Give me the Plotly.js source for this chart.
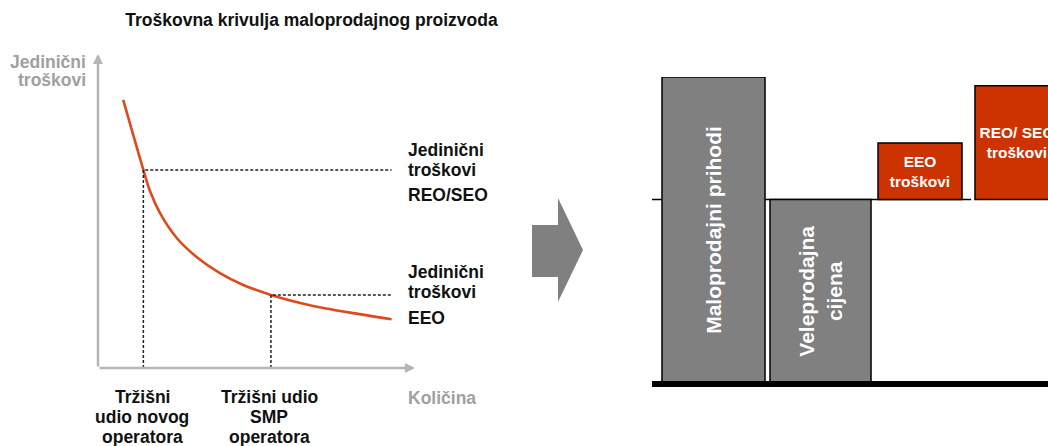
<!DOCTYPE html>
<html>
<head>
<meta charset="utf-8">
<script src="https://cdn.plot.ly/plotly-3.0.1.min.js"></script>
<style>html,body{margin:0;padding:0;background:#fff;}#chart{width:1048px;height:446px;}</style>
</head>
<body>
<div id="chart"></div>
<script>
// ---- Left panel: unit-cost curve (quantity vs unit cost, arbitrary units) ----
const costQuantity = [0.80, 1.12, 1.44, 1.65, 1.97, 2.50, 3.13, 3.87, 4.61, 5.49, 6.73, 8.00, 9.32];
const unitCost     = [8.62, 7.49, 6.37, 5.69, 4.98, 4.18, 3.57, 3.05, 2.67, 2.35, 2.02, 1.78, 1.57];
const newOperatorShare = 1.44;   // Tržišni udio novog operatora
const newOperatorCost  = 6.37;   // Jedinični troškovi REO/SEO
const smpOperatorShare = 5.49;   // Tržišni udio SMP operatora
const smpOperatorCost  = 2.35;   // Jedinični troškovi EEO
const guideEnd = 9.32;

// ---- Right panel: price / cost bars ----
const grayBarLabels = ['Maloprodajni prihodi', 'Veleprodajna<br>cijena'];
const grayBarPos    = [0, 1];
const grayBarValues = [100, 60];
const redBarLabels  = ['EEO<br>troškovi', 'REO/ SEO<br>troškovi'];
const redBarPos     = [1.93, 2.836];
const redBarBase    = [60, 60];
const redBarValues  = [18.4, 37.1];
const wholesaleLevel = 60;

const W = 1048, H = 446;
const px = v => v / W;
const py = v => (H - v) / H;
const FONT = 'Liberation Sans, Arial, sans-serif';

const traces = [
  {
    x: costQuantity, y: unitCost, type: 'scatter', mode: 'lines',
    line: {color: '#e0491b', width: 2.6, shape: 'spline', smoothing: 0.8},
    xaxis: 'x', yaxis: 'y', hoverinfo: 'skip'
  },
  {
    x: [newOperatorShare, newOperatorShare, guideEnd],
    y: [0, newOperatorCost, newOperatorCost],
    type: 'scatter', mode: 'lines',
    line: {color: '#222', width: 1.5, dash: '3px,2px'},
    xaxis: 'x', yaxis: 'y', hoverinfo: 'skip'
  },
  {
    x: [smpOperatorShare, smpOperatorShare, guideEnd],
    y: [0, smpOperatorCost, smpOperatorCost],
    type: 'scatter', mode: 'lines',
    line: {color: '#222', width: 1.5, dash: '3px,2px'},
    xaxis: 'x', yaxis: 'y', hoverinfo: 'skip'
  },
  {
    x: grayBarPos, y: grayBarValues, type: 'bar', width: [0.963, 0.944],
    marker: {color: '#808080', line: {color: '#000', width: 1.5}},
    text: grayBarLabels, textposition: 'inside', insidetextanchor: 'middle',
    textangle: -90, constraintext: 'none',
    insidetextfont: {family: FONT, size: 21, color: '#fff', weight: 700},
    xaxis: 'x2', yaxis: 'y2', hoverinfo: 'skip'
  },
  {
    x: redBarPos, y: redBarValues, base: redBarBase, type: 'bar', width: [0.785, 0.785],
    marker: {color: '#cc3300', line: {color: '#000', width: 1.5}},
    text: redBarLabels, textposition: 'inside', insidetextanchor: 'middle',
    textangle: 0, constraintext: 'none',
    insidetextfont: {family: FONT, size: 15.5, color: '#fff', weight: 700},
    xaxis: 'x2', yaxis: 'y2', hoverinfo: 'skip'
  }
];

const hidden = {visible: false, showgrid: false, zeroline: false, fixedrange: true};

const blackLbl = (text, x, y, xanchor) => ({
  text, x: px(x), y: py(y), xref: 'paper', yref: 'paper', xanchor, yanchor: 'middle',
  showarrow: false, font: {family: FONT, size: 17.5, color: '#111', weight: 700}
});
const grayLbl = (text, x, y, xanchor) => ({
  text, x: px(x), y: py(y), xref: 'paper', yref: 'paper', xanchor, yanchor: 'middle',
  showarrow: false, font: {family: FONT, size: 17.5, color: '#a0a0a0', weight: 700}
});

const arrowPath = [[532,225],[558,225],[558,198],[583,250],[558,302],[558,277],[532,277]]
  .map((p, i) => (i ? 'L' : 'M') + px(p[0]).toFixed(5) + ',' + py(p[1]).toFixed(5)).join(' ') + ' Z';

// right panel: 3.06 px per value unit, y=0 at pixel row 383
const y2Bottom = -4;
const layout = {
  width: W, height: H,
  margin: {l: 0, r: 0, t: 0, b: 0},
  paper_bgcolor: '#fff', plot_bgcolor: 'rgba(0,0,0,0)',
  showlegend: false, barmode: 'overlay', bargap: 0,
  title: {
    text: 'Troškovna krivulja maloprodajnog proizvoda',
    x: px(311.5), xanchor: 'center', xref: 'paper',
    y: py(20), yanchor: 'middle', yref: 'paper',
    font: {family: FONT, size: 17.5, color: '#111', weight: 700}
  },
  xaxis: Object.assign({domain: [px(98), px(413)], range: [0, 10], anchor: 'y'}, hidden),
  yaxis: Object.assign({domain: [py(368), py(57)], range: [0, 10], anchor: 'x'}, hidden),
  xaxis2: Object.assign({domain: [px(640), 1], range: [-0.687, 3.126], anchor: 'y2'}, hidden),
  yaxis2: Object.assign({domain: [py(383 - y2Bottom * 3.06), py(77)], range: [y2Bottom, 100], anchor: 'x2'}, hidden),
  shapes: [
    {type: 'path', path: arrowPath, xref: 'paper', yref: 'paper',
     fillcolor: '#808080', line: {width: 0}},
    {type: 'line', xref: 'x2', yref: 'y2', x0: -0.575, x1: 2.407, y0: wholesaleLevel, y1: wholesaleLevel,
     line: {color: '#000', width: 1.5}, layer: 'below'},
    {type: 'line', xref: 'x2', yref: 'y2', x0: -0.575, x1: 3.3, y0: -0.3, y1: -0.3,
     line: {color: '#000', width: 6}, layer: 'above'}
  ],
  annotations: [
    {x: 0, y: 10.1, ax: 0, ay: 0, xref: 'x', yref: 'y', axref: 'x', ayref: 'y', text: '',
     showarrow: true, arrowhead: 2, arrowsize: 0.8, arrowwidth: 2.5, arrowcolor: '#b5b5b5', standoff: 0},
    {x: 10.06, y: 0, ax: 0, ay: 0, xref: 'x', yref: 'y', axref: 'x', ayref: 'y', text: '',
     showarrow: true, arrowhead: 2, arrowsize: 0.8, arrowwidth: 2.5, arrowcolor: '#b5b5b5', standoff: 0},
    grayLbl('Jedinični', 88, 62, 'right'),
    grayLbl('troškovi', 88, 80, 'right'),
    grayLbl('Količina', 406, 398, 'left'),
    blackLbl('Jedinični', 406, 150, 'left'),
    blackLbl('troškovi', 406, 170, 'left'),
    blackLbl('REO/SEO', 406, 195, 'left'),
    blackLbl('Jedinični', 406, 272, 'left'),
    blackLbl('troškovi', 406, 292, 'left'),
    blackLbl('EEO', 406, 318, 'left'),
    blackLbl('Tržišni', 142, 397, 'center'),
    blackLbl('udio novog', 142, 417, 'center'),
    blackLbl('operatora', 142, 437, 'center'),
    blackLbl('Tržišni udio', 269, 397, 'center'),
    blackLbl('SMP', 269, 417, 'center'),
    blackLbl('operatora', 269, 437, 'center')
  ]
};

Plotly.newPlot('chart', traces, layout, {staticPlot: true, displayModeBar: false});
</script>
</body>
</html>
